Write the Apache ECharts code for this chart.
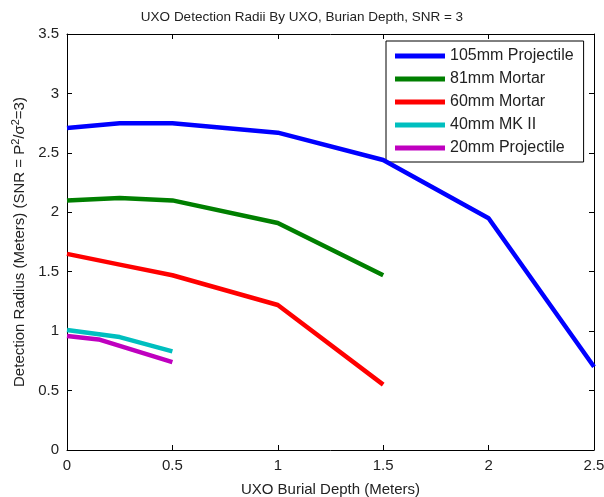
<!DOCTYPE html>
<html><head><meta charset="utf-8">
<script src="https://cdn.jsdelivr.net/npm/echarts@6/dist/echarts.min.js"></script>
<style>html,body{margin:0;padding:0;background:#fff}#c{width:604px;height:497px}</style>
</head><body><div id="c"></div>
<script>
const seriesNames = ['105mm Projectile','81mm Mortar','60mm Mortar','40mm MK II','20mm Projectile'];
const colors = ['#0000ff','#007f00','#ff0000','#00bfbf','#bf00bf'];
const d105 = [[0,2.71],[0.25,2.75],[0.5,2.75],[1,2.67],[1.5,2.44],[2,1.95],[2.5,0.70]];
const d81 = [[0,2.10],[0.25,2.12],[0.5,2.10],[1,1.91],[1.5,1.47]];
const d60 = [[0,1.65],[0.25,1.56],[0.5,1.47],[1,1.22],[1.5,0.55]];
const d40 = [[0,1.01],[0.25,0.95],[0.5,0.83]];
const d20 = [[0,0.96],[0.15,0.93],[0.5,0.74]];
const allData = [d105,d81,d60,d40,d20];
const xTicks = [0,0.5,1,1.5,2,2.5];
const yTicks = [0,0.5,1,1.5,2,2.5,3,3.5];
const font = 'Liberation Sans, Arial, sans-serif';
const txt = '#222';
const chart = echarts.init(document.getElementById('c'));
const axisCommon = {
  axisLine:{show:true,onZero:false,lineStyle:{color:'#000',width:1}},
  axisTick:{show:true,inside:true,length:5,lineStyle:{color:'#000'}},
  splitLine:{show:false}
};
chart.setOption({
  backgroundColor:'#fff',
  animation:false,
  title:{text:'UXO Detection Radii By UXO, Burian Depth, SNR = 3',left:'center',top:5,
    textStyle:{fontFamily:font,fontSize:13.5,fontWeight:'normal',color:txt}},
  grid:{left:67,right:10,top:34,bottom:47,outerBoundsMode:'none',containLabel:false},
  legend:{orient:'vertical',left:386,top:41,padding:[7,10,6,9],itemGap:7,
    itemWidth:50,itemHeight:5,icon:'rect',
    borderColor:'#000',borderWidth:1,backgroundColor:'#fff',
    textStyle:{fontFamily:font,fontSize:16,lineHeight:16,color:txt},
    data:seriesNames},
  xAxis:[
    Object.assign({type:'value',min:0,max:2.5,interval:0.5,position:'bottom',
      name:'UXO Burial Depth (Meters)',nameLocation:'middle',nameGap:32,
      nameTextStyle:{fontFamily:font,fontSize:15,color:txt},
      axisLabel:{fontFamily:font,fontSize:15,color:txt,margin:8,formatter:v=>String(v)}},axisCommon),
    Object.assign({type:'value',min:0,max:2.5,interval:0.5,position:'top',axisLabel:{show:false}},axisCommon)
  ],
  yAxis:[
    Object.assign({type:'value',min:0,max:3.5,interval:0.5,position:'left',
      name:'Detection Radius (Meters) (SNR = P{sup|2}/{sig|σ}{sup|2}=3)',nameLocation:'middle',nameGap:34,
      nameTextStyle:{fontFamily:font,fontSize:15,color:txt,
        rich:{sup:{fontFamily:font,fontSize:11,color:txt,verticalAlign:'top',padding:[0,0,7,0]},
              sig:{fontFamily:font,fontSize:15,color:txt}}},
      axisLabel:{fontFamily:font,fontSize:15,color:txt,margin:8,formatter:v=>String(v)}},axisCommon),
    Object.assign({type:'value',min:0,max:3.5,interval:0.5,position:'right',axisLabel:{show:false}},axisCommon)
  ],
  series: allData.map((d,i)=>({
    name:seriesNames[i],type:'line',data:d,showSymbol:false,symbol:'none',
    color:colors[i],lineStyle:{width:4.5,color:colors[i]},z:10-i
  }))
});
</script></body></html>
